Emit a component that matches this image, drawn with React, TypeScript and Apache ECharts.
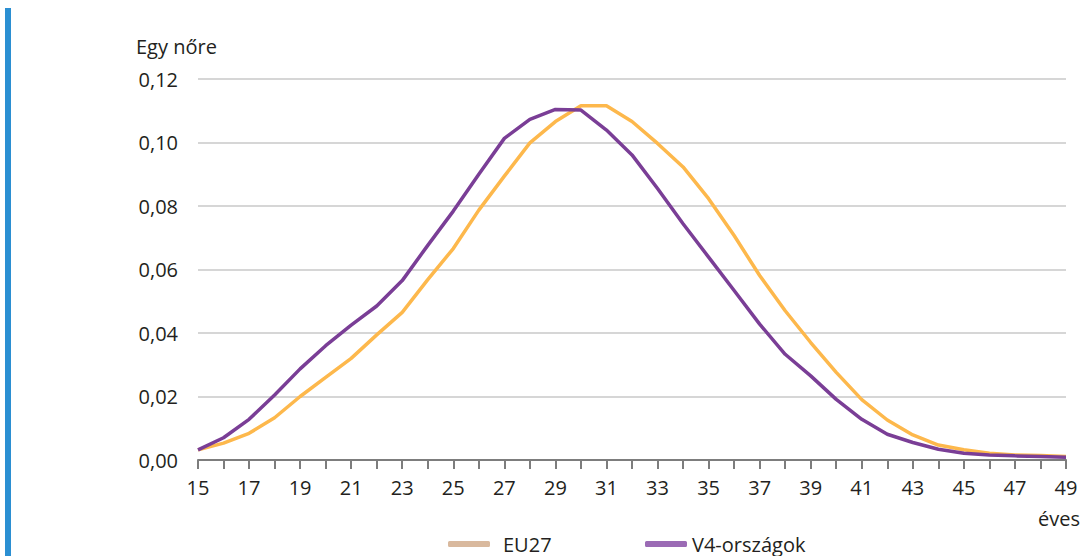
import React, { useEffect, useRef } from "react";
import * as echarts from "echarts";

const ages: string[] = [
  "15", "16", "17", "18", "19", "20", "21", "22", "23", "24", "25", "26",
  "27", "28", "29", "30", "31", "32", "33", "34", "35", "36", "37", "38",
  "39", "40", "41", "42", "43", "44", "45", "46", "47", "48", "49",
];

const eu27: number[] = [
  0.0032, 0.0053, 0.0084, 0.0133, 0.02, 0.026, 0.032, 0.0394, 0.0465, 0.0568,
  0.0666, 0.0787, 0.0894, 0.0999, 0.1066, 0.1116, 0.1116, 0.1066, 0.0997,
  0.0923, 0.0823, 0.0707, 0.0581, 0.047, 0.037, 0.0276, 0.019, 0.0126, 0.0079,
  0.0047, 0.0032, 0.0021, 0.0016, 0.0014, 0.0011,
];

const v4: number[] = [
  0.0032, 0.007, 0.0128, 0.0205, 0.0287, 0.036, 0.0425, 0.0485, 0.0565, 0.0676,
  0.0784, 0.09, 0.1013, 0.1073, 0.1104, 0.1102, 0.1039, 0.0961, 0.0855, 0.0744,
  0.0639, 0.0534, 0.0428, 0.0333, 0.0265, 0.0191, 0.0128, 0.0081, 0.0055,
  0.0034, 0.0021, 0.0016, 0.0013, 0.0011, 0.0009,
];

const seriesNames = ["EU27", "V4-országok"];
const yAxisTitle = "Egy nőre";
const xAxisTitle = "éves";

const FONT = "'Open Sans', 'Noto Sans', sans-serif";
const TEXT = "#231f20";

export default function App() {
  const ref = useRef<HTMLDivElement>(null);
  useEffect(() => {
    if (!ref.current) return;
    const chart = echarts.init(ref.current, undefined, { renderer: "svg" });
    chart.setOption({
      animation: false,
      backgroundColor: "#ffffff",
      textStyle: { fontFamily: FONT, color: TEXT },
      grid: { left: 198, right: 16, top: 79, bottom: 96, containLabel: false },
      xAxis: {
        type: "category",
        data: ages,
        boundaryGap: false,
        axisLine: { show: true, lineStyle: { color: "#7d7d7d", width: 2 } },
        axisTick: { show: true, interval: 0, length: 9, lineStyle: { color: "#7d7d7d", width: 2 } },
        axisLabel: { interval: 1, margin: 17, fontSize: 20, color: TEXT, fontFamily: FONT },
        splitLine: { show: false },
      },
      yAxis: {
        type: "value",
        min: 0,
        max: 0.12,
        interval: 0.02,
        axisLine: { show: false },
        axisTick: { show: false },
        axisLabel: {
          margin: 20,
          fontSize: 20,
          color: TEXT,
          fontFamily: FONT,
          formatter: (v: number) => v.toFixed(2).replace(".", ","),
        },
        splitLine: { show: true, lineStyle: { color: "#c8c8c8", width: 1.5 } },
      },
      legend: [
        {
          left: 443,
          top: 529,
          icon: "roundRect",
          itemWidth: 42,
          itemHeight: 6,
          textStyle: { fontSize: 20, color: TEXT, fontFamily: FONT, padding: [0, 0, 0, 8] },
          data: [{ name: seriesNames[0], itemStyle: { color: "#d9b99e" } }],
        },
        {
          left: 640,
          top: 529,
          icon: "roundRect",
          itemWidth: 42,
          itemHeight: 6,
          textStyle: { fontSize: 20, color: TEXT, fontFamily: FONT, padding: [0, 0, 0, 0] },
          data: [{ name: seriesNames[1], itemStyle: { color: "#9b6bb5" } }],
        },
      ],
      graphic: [
        {
          type: "rect",
          shape: { x: 5, y: 8, width: 6, height: 560 },
          style: { fill: "#2b8fd2" },
        },
        {
          type: "text",
          x: 136,
          y: 46,
          style: {
            text: yAxisTitle,
            fontSize: 20,
            fontFamily: FONT,
            fill: TEXT,
            textAlign: "left",
            textVerticalAlign: "middle",
          },
        },
        {
          type: "text",
          x: 1080,
          y: 518,
          style: {
            text: xAxisTitle,
            fontSize: 20,
            fontFamily: FONT,
            fill: TEXT,
            textAlign: "right",
            textVerticalAlign: "middle",
          },
        },
      ],
      series: [
        {
          name: seriesNames[0],
          type: "line",
          data: eu27,
          showSymbol: false,
          symbol: "none",
          lineStyle: { color: "#fdb84c", width: 3.5 },
          itemStyle: { color: "#fdb84c" },
        },
        {
          name: seriesNames[1],
          type: "line",
          data: v4,
          showSymbol: false,
          symbol: "none",
          lineStyle: { color: "#7a3e96", width: 3.5 },
          itemStyle: { color: "#7a3e96" },
        },
      ],
    });
    return () => chart.dispose();
  }, []);
  return (
    <div
      ref={ref}
      style={{ position: "fixed", left: 0, top: 0, width: 1082, height: 556, background: "#fff" }}
    />
  );
}
